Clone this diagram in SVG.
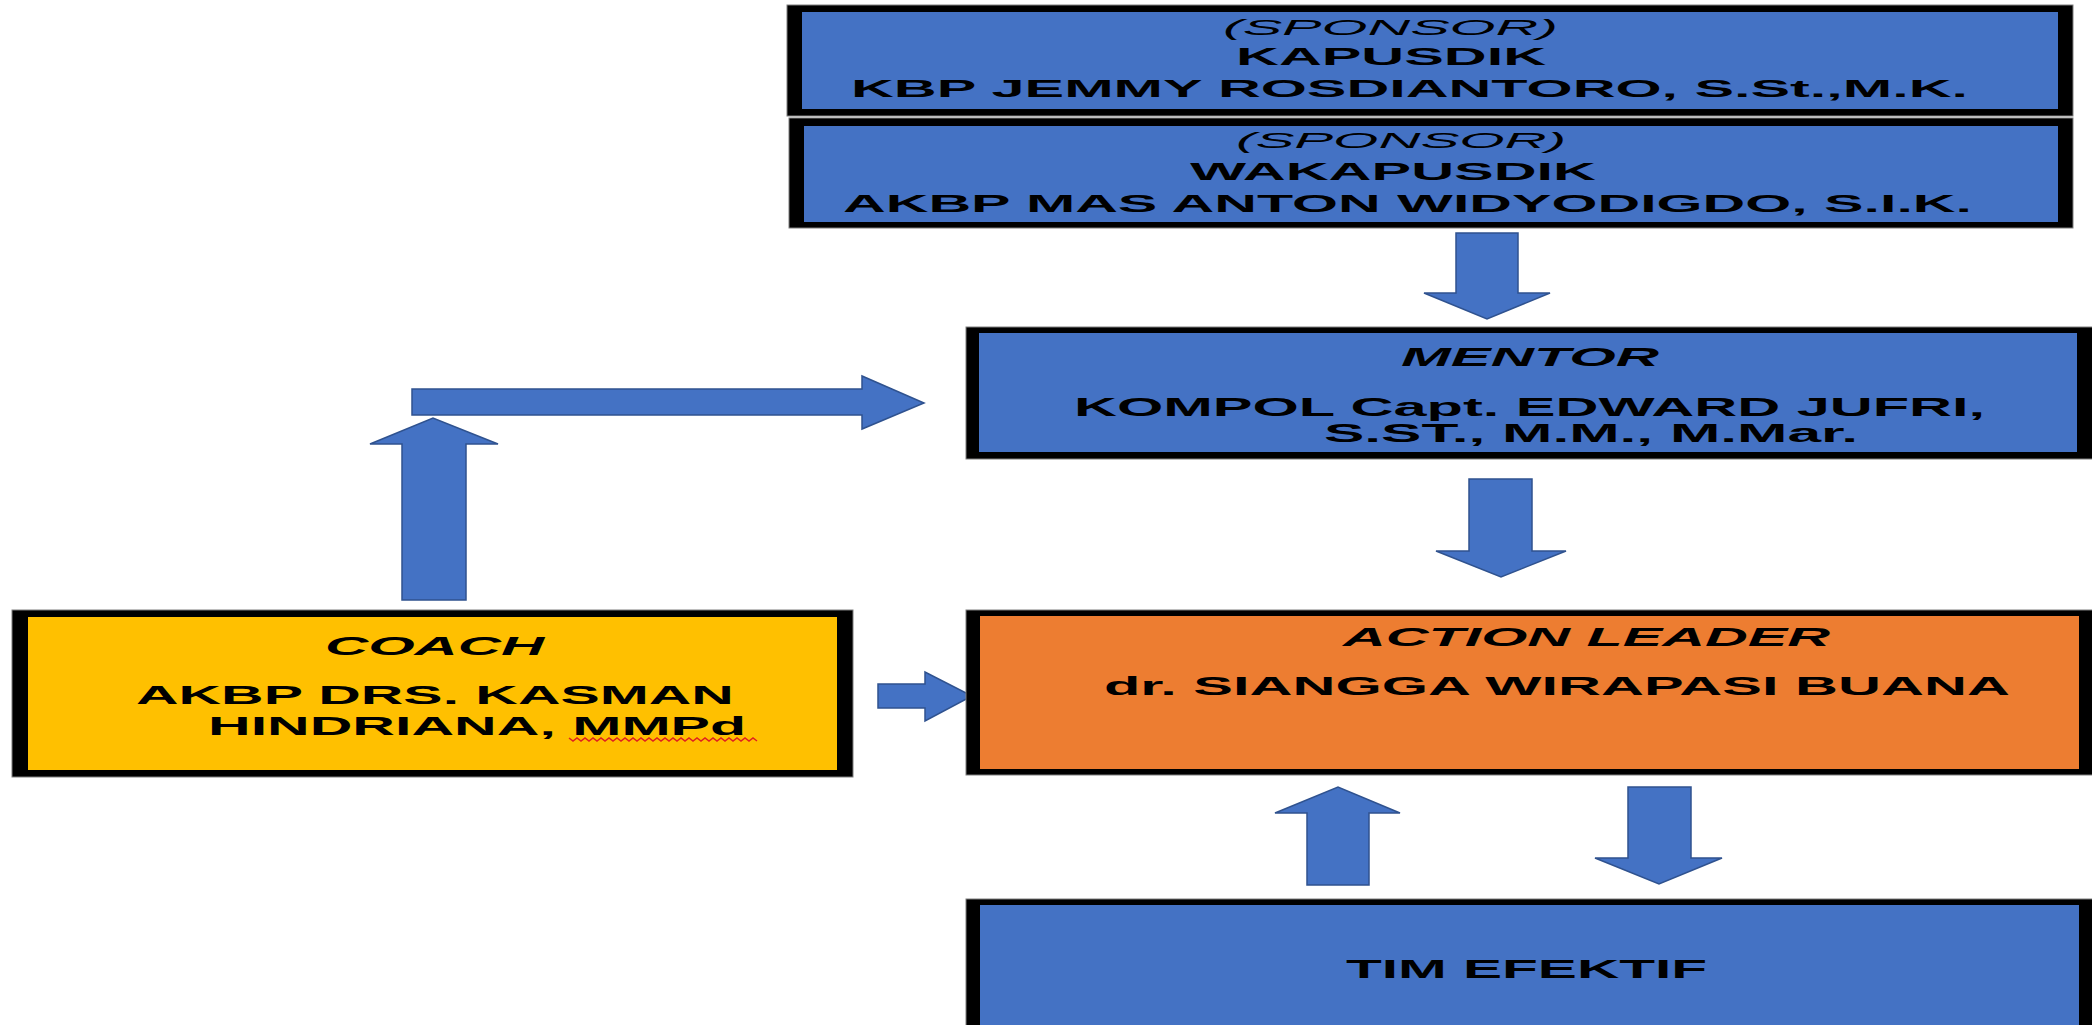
<svg xmlns="http://www.w3.org/2000/svg" width="2092" height="1025" viewBox="0 0 2092 1025">
<style>
.frame{fill:#000000;stroke:#7f7f7f;stroke-width:1}
.blue{fill:#4472C4}
.orange{fill:#ED7D31}
.gold{fill:#FFC000}
.arrow{fill:#4472C4;stroke:#2F528F;stroke-width:1.5}
text{font-family:"Liberation Sans",Arial,sans-serif;fill:#000000;font-weight:bold}
.s21{font-size:21.5px}
.s24{font-size:24.5px}
.s25{font-size:25px}
.it{font-style:italic}
.reg{font-weight:normal}
</style>
<rect width="2092" height="1025" fill="#ffffff"/>
<g id="connectors">
  <polygon class="arrow" points="1456,233 1518,233 1518,293 1550,293 1487,319 1424,293 1456,293"/>
  <polygon class="arrow" points="1469,479 1532,479 1532,551 1566,551 1501,577 1436,551 1469,551"/>
  <polygon class="arrow" points="412,389 862,389 862,376 924,403 862,429 862,415 412,415"/>
  <polygon class="arrow" points="402,600 402,444 370,444 433,418 498,444 466,444 466,600"/>
  <polygon class="arrow" points="878,684 925,684 925,672 972,696 925,721 925,708 878,708"/>
  <polygon class="arrow" points="1307,885 1307,813 1275,813 1338,787 1400,813 1369,813 1369,885"/>
  <polygon class="arrow" points="1628,787 1691,787 1691,858 1722,858 1659,884 1595,858 1628,858"/>
</g>
<g id="sponsor1">
  <rect class="frame" x="787" y="5" width="1286" height="111"/>
  <rect class="blue" x="802" y="12" width="1256" height="97"/>
  <text class="s21 it reg" transform="matrix(1.9,0,0,1,1223,0)" x="0" y="35" textLength="176.3" lengthAdjust="spacingAndGlyphs">(SPONSOR)</text>
  <text class="s24" transform="matrix(1.9,0,0,1,1236,0)" x="0" y="65" textLength="163.2" lengthAdjust="spacingAndGlyphs">KAPUSDIK</text>
  <text class="s24" transform="matrix(1.9,0,0,1,851,0)" x="0" y="97" textLength="587.9" lengthAdjust="spacingAndGlyphs">KBP JEMMY ROSDIANTORO, S.St.,M.K.</text>
</g>
<g id="sponsor2">
  <rect class="frame" x="789" y="118" width="1284" height="110"/>
  <rect class="blue" x="804" y="126" width="1254" height="96"/>
  <text class="s21 it reg" transform="matrix(1.9,0,0,1,1236,0)" x="0" y="148" textLength="173.7" lengthAdjust="spacingAndGlyphs">(SPONSOR)</text>
  <text class="s24" transform="matrix(1.9,0,0,1,1190,0)" x="0" y="180" textLength="213.7" lengthAdjust="spacingAndGlyphs">WAKAPUSDIK</text>
  <text class="s24" transform="matrix(1.9,0,0,1,843,0)" x="0" y="212" textLength="594.2" lengthAdjust="spacingAndGlyphs">AKBP MAS ANTON WIDYODIGDO, S.I.K.</text>
</g>
<g id="mentor">
  <rect class="frame" x="966" y="327" width="1130" height="132"/>
  <rect class="blue" x="979" y="333" width="1098" height="119"/>
  <text class="s25 it" transform="matrix(1.9,0,0,1,1401,0)" x="0" y="366" textLength="135.8" lengthAdjust="spacingAndGlyphs">MENTOR</text>
  <text class="s25" transform="matrix(1.9,0,0,1,1074,0)" x="0" y="416" textLength="479.5" lengthAdjust="spacingAndGlyphs">KOMPOL Capt. EDWARD JUFRI,</text>
  <text class="s25" transform="matrix(1.9,0,0,1,1324,0)" x="0" y="442" textLength="281.1" lengthAdjust="spacingAndGlyphs">S.ST., M.M., M.Mar.</text>
</g>
<g id="coach">
  <rect class="frame" x="12" y="610" width="841" height="167"/>
  <rect class="gold" x="28" y="617" width="809" height="153"/>
  <text class="s25 it" transform="matrix(1.9,0,0,1,325,0)" x="0" y="655" textLength="115.3" lengthAdjust="spacingAndGlyphs">COACH</text>
  <text class="s25" transform="matrix(1.9,0,0,1,136,0)" x="0" y="704" textLength="314.7" lengthAdjust="spacingAndGlyphs">AKBP DRS. KASMAN</text>
  <text class="s25" transform="matrix(1.9,0,0,1,208,0)" x="0" y="735" textLength="283.2" lengthAdjust="spacingAndGlyphs">HINDRIANA, MMPd</text>
  <path d="M569,738 l4,3 l4,-3 l4,3 l4,-3 l4,3 l4,-3 l4,3 l4,-3 l4,3 l4,-3 l4,3 l4,-3 l4,3 l4,-3 l4,3 l4,-3 l4,3 l4,-3 l4,3 l4,-3 l4,3 l4,-3 l4,3 l4,-3 l4,3 l4,-3 l4,3 l4,-3 l4,3 l4,-3 l4,3 l4,-3 l4,3 l4,-3 l4,3 l4,-3 l4,3 l4,-3 l4,3 l4,-3 l4,3 l4,-3 l4,3 l4,-3 l4,3 l4,-3 l4,3" fill="none" stroke="#E02020" stroke-width="1.5"/>
</g>
<g id="action-leader">
  <rect class="frame" x="966" y="610" width="1130" height="165"/>
  <rect class="orange" x="980" y="616" width="1099" height="153"/>
  <text class="s25 it" transform="matrix(1.9,0,0,1,1343,0)" x="0" y="646" textLength="256.3" lengthAdjust="spacingAndGlyphs">ACTION LEADER</text>
  <text class="s25" transform="matrix(1.9,0,0,1,1104,0)" x="0" y="695" textLength="476.8" lengthAdjust="spacingAndGlyphs">dr. SIANGGA WIRAPASI BUANA</text>
</g>
<g id="tim-efektif">
  <rect class="frame" x="966" y="899" width="1130" height="140"/>
  <rect class="blue" x="980" y="905" width="1099" height="130"/>
  <text class="s25" transform="matrix(1.9,0,0,1,1346,0)" x="0" y="978" textLength="190" lengthAdjust="spacingAndGlyphs">TIM EFEKTIF</text>
</g>
</svg>
